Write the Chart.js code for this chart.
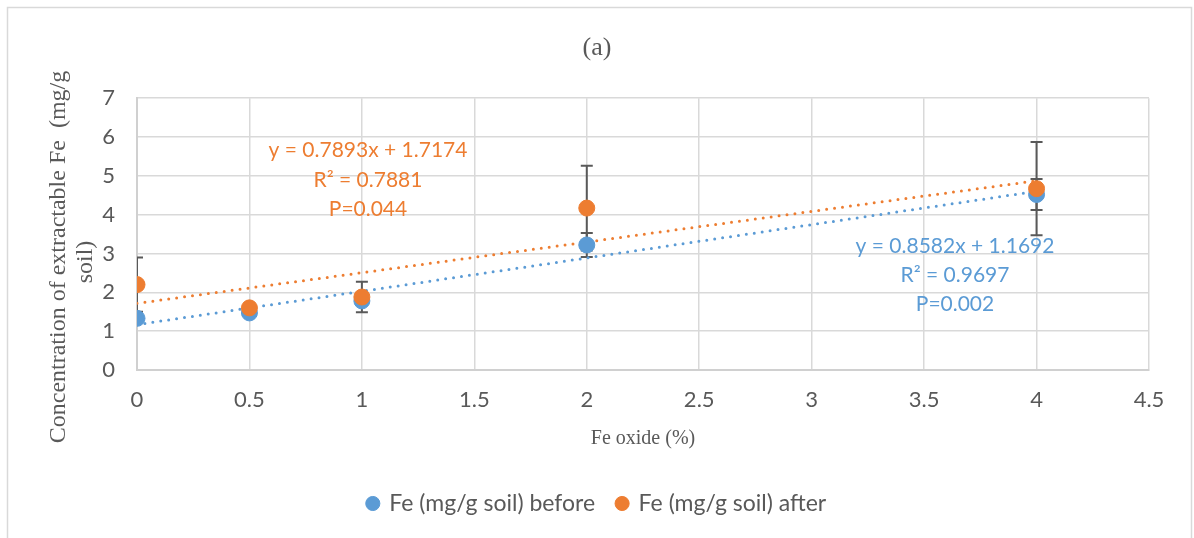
<!DOCTYPE html>
<html lang="en">
<head>
    <meta charset="UTF-8">
    <title>Fe extraction vs Fe oxide</title>
    <style>
        body { margin: 0; background: #fff; }
        #feChart { display: block; }
    </style>
    <script src="https://cdn.jsdelivr.net/npm/chart.js"></script>
</head>
<body>
    <canvas id="feChart" width="1194" height="538"></canvas>
    <script>
        // Fe oxide content (%) and extractable Fe (mg/g soil)
        const feOxide = [0, 0.5, 1, 2, 4];
        const feBefore = [1.33, 1.47, 1.78, 3.22, 4.52];
        const feAfter = [2.20, 1.60, 1.88, 4.17, 4.67];
        // standard deviations for the error bars
        const errBefore = [0.05, 0.05, 0.10, 0.31, 0.40];
        const errAfter = [0.70, 0.05, 0.39, 1.09, 1.20];

        // linear fits: slope, intercept, R², P
        const fitSlope = [0.8582, 0.7893];
        const fitIntercept = [1.1692, 1.7174];
        const fitR2 = ['0.9697', '0.7881'];
        const fitP = ['0.002', '0.044'];

        const xTickLabels = ['0', '0.5', '1', '1.5', '2', '2.5', '3', '3.5', '4', '4.5'];
        const yTickLabels = ['0', '1', '2', '3', '4', '5', '6', '7'];

        const BLUE = '#5B9BD5';
        const ORANGE = '#ED7D31';
        const GREY = '#595959';
        const SANS = 'Lato';
        const SERIF = '"Liberation Serif", "Times New Roman", serif';

        const points = (ys) => feOxide.map((x, i) => ({x: x, y: ys[i]}));
        const fitLine = (k) => [0, 4].map(x => ({x: x, y: fitSlope[k] * x + fitIntercept[k]}));

        // frame, error bars, fit labels and the two-line y title
        const extras = {
            id: 'extras',
            beforeDraw(chart) {
                const ctx = chart.ctx;
                ctx.save();
                ctx.strokeStyle = '#d9d9d9';
                ctx.lineWidth = 1.5;
                ctx.strokeRect(7.5, 7.5, 1184, 540);
                ctx.restore();
            },
            beforeDatasetsDraw(chart) {
                const ctx = chart.ctx;
                const xs = chart.scales.x, ys = chart.scales.y;
                const area = chart.chartArea;
                ctx.save();
                ctx.beginPath();
                ctx.rect(area.left, 0, area.right - area.left, chart.height);
                ctx.clip();
                ctx.strokeStyle = GREY;
                ctx.lineWidth = 2;
                [[feBefore, errBefore], [feAfter, errAfter]].forEach(([vals, errs]) => {
                    feOxide.forEach((x, i) => {
                        const px = xs.getPixelForValue(x);
                        const top = ys.getPixelForValue(vals[i] + errs[i]);
                        const bot = ys.getPixelForValue(vals[i] - errs[i]);
                        ctx.beginPath();
                        ctx.moveTo(px, top); ctx.lineTo(px, bot);
                        ctx.moveTo(px - 6, top); ctx.lineTo(px + 6, top);
                        ctx.moveTo(px - 6, bot); ctx.lineTo(px + 6, bot);
                        ctx.stroke();
                    });
                });
                ctx.restore();
            },
            afterDraw(chart) {
                const ctx = chart.ctx;
                ctx.save();
                ctx.textAlign = 'center';
                ctx.textBaseline = 'middle';
                ctx.font = '21px ' + SANS;
                const labels = [
                    {color: ORANGE, x: 368, y: [150, 180, 209], k: 1},
                    {color: BLUE, x: 955, y: [246, 275, 304], k: 0}
                ];
                labels.forEach(l => {
                    ctx.fillStyle = l.color;
                    ctx.fillText('y = ' + fitSlope[l.k] + 'x + ' + fitIntercept[l.k], l.x, l.y[0]);
                    ctx.fillText('R² = ' + fitR2[l.k], l.x, l.y[1]);
                    ctx.fillText('P=' + fitP[l.k], l.x, l.y[2]);
                });

                ctx.fillStyle = GREY;
                ctx.font = '24px ' + SERIF;
                ctx.translate(59, 257);
                ctx.rotate(-Math.PI / 2);
                ctx.fillText('Concentration of extractable Fe  (mg/g', 0, 0);
                ctx.fillText('soil)', -5, 27);
                ctx.restore();
            }
        };

        new Chart(document.getElementById('feChart'), {
            type: 'scatter',
            data: {
                datasets: [
                    {
                        label: 'Fe (mg/g soil) before',
                        data: points(feBefore),
                        backgroundColor: BLUE,
                        borderColor: BLUE,
                        pointRadius: 8,
                        pointHoverRadius: 8,
                        order: 2
                    },
                    {
                        label: 'Fe (mg/g soil) after',
                        data: points(feAfter),
                        backgroundColor: ORANGE,
                        borderColor: ORANGE,
                        pointRadius: 8,
                        pointHoverRadius: 8,
                        order: 1
                    },
                    {
                        label: 'fit before',
                        type: 'line',
                        data: fitLine(0),
                        borderColor: BLUE,
                        borderWidth: 3,
                        borderDash: [0, 8],
                        borderCapStyle: 'round',
                        pointRadius: 0,
                        fill: false,
                        order: 4
                    },
                    {
                        label: 'fit after',
                        type: 'line',
                        data: fitLine(1),
                        borderColor: ORANGE,
                        borderWidth: 3,
                        borderDash: [0, 8],
                        borderCapStyle: 'round',
                        pointRadius: 0,
                        fill: false,
                        order: 3
                    }
                ]
            },
            options: {
                responsive: false,
                animation: false,
                layout: { padding: { left: 0, right: 0, top: 0, bottom: 13 } },
                scales: {
                    x: {
                        type: 'linear',
                        min: 0,
                        max: 4.5,
                        afterBuildTicks: s => { s.ticks = xTickLabels.map(Number).map(v => ({value: v})); },
                        ticks: {
                            color: GREY,
                            font: { family: SANS, size: 22 },
                            padding: 17,
                            callback: (v, i) => xTickLabels[i]
                        },
                        grid: { color: '#d9d9d9', lineWidth: 1.5, drawTicks: false },
                        border: { color: '#d0d0d0', width: 2 },
                        title: {
                            display: true,
                            text: 'Fe oxide (%)',
                            color: GREY,
                            font: { family: SERIF, size: 20 },
                            padding: { top: 10, bottom: 19 }
                        },
                        afterFit: s => { s.height = 100; }
                    },
                    y: {
                        min: 0,
                        max: 7,
                        afterBuildTicks: s => { s.ticks = yTickLabels.map(Number).map(v => ({value: v})); },
                        ticks: {
                            color: GREY,
                            font: { family: SANS, size: 22 },
                            padding: 22,
                            callback: (v, i) => yTickLabels[i]
                        },
                        grid: { color: '#d9d9d9', lineWidth: 1.5, drawTicks: false },
                        border: { color: '#d0d0d0', width: 2 },
                        afterFit: s => { s.width = 137; }
                    },
                    // empty right-hand margin beside the plot
                    gap: {
                        position: 'right',
                        display: true,
                        min: 0,
                        max: 1,
                        grid: { display: false },
                        ticks: { display: false },
                        border: { display: false },
                        afterFit: s => { s.width = 45; }
                    }
                },
                plugins: {
                    title: {
                        display: true,
                        text: '(a)',
                        color: GREY,
                        font: { family: SERIF, size: 26, weight: 'normal' },
                        padding: { top: 33, bottom: 34 }
                    },
                    legend: {
                        position: 'bottom',
                        labels: {
                            filter: item => item.datasetIndex < 2,
                            sort: (a, b) => a.datasetIndex - b.datasetIndex,
                            usePointStyle: true,
                            pointStyle: 'circle',
                            boxWidth: 10,
                            boxHeight: 10,
                            padding: 22,
                            color: GREY,
                            font: { family: SANS, size: 23 }
                        }
                    },
                    tooltip: { enabled: false }
                }
            },
            plugins: [extras]
        });
    </script>
</body>
</html>
